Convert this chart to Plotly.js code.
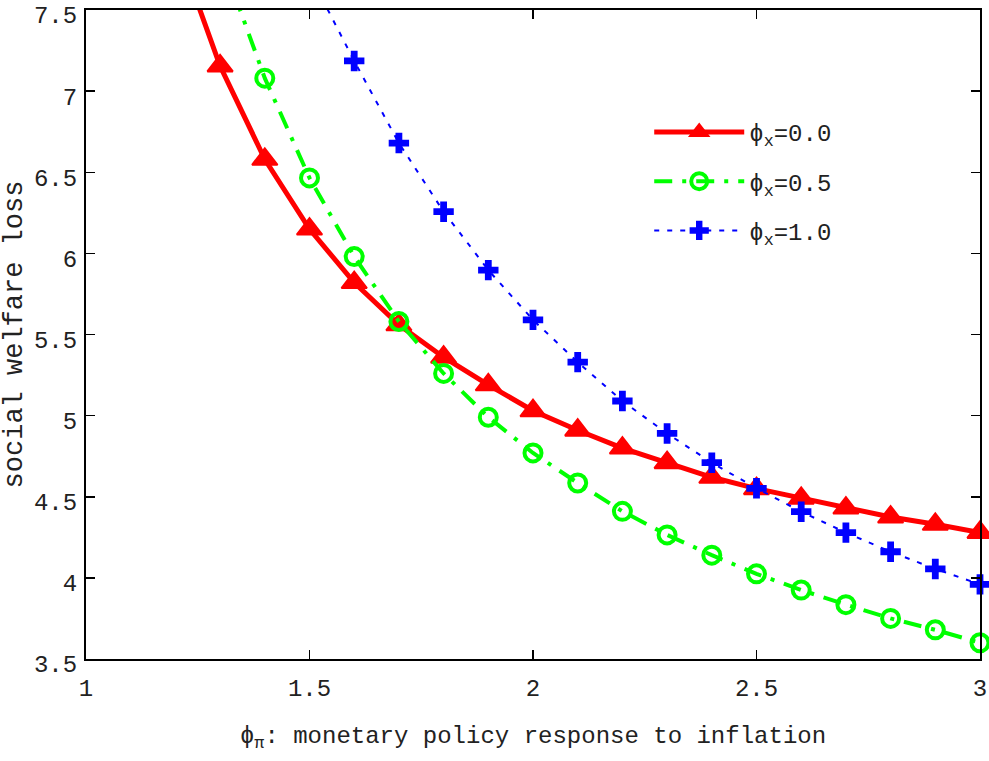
<!DOCTYPE html>
<html>
<head>
<meta charset="utf-8">
<script src="https://cdn.plot.ly/plotly-3.0.1.min.js"></script>
<style>html,body{margin:0;padding:0;background:#fff;}#chart{width:989px;height:761px;}</style>
</head>
<body>
<div id="chart"></div>
<script>
// phi_pi values
var xRed   = [1.2, 1.3, 1.4, 1.5, 1.6, 1.7, 1.8, 1.9, 2.0, 2.1, 2.2, 2.3, 2.4, 2.5, 2.6, 2.7, 2.8, 2.9, 3.0];
var lossPhiX00 = [7.92, 7.155, 6.58, 6.15, 5.82, 5.56, 5.36, 5.19, 5.03, 4.91, 4.80, 4.71, 4.62, 4.55, 4.49, 4.43, 4.375, 4.33, 4.28];
var xGreen = [1.3, 1.4, 1.5, 1.6, 1.7, 1.8, 1.9, 2.0, 2.1, 2.2, 2.3, 2.4, 2.5, 2.6, 2.7, 2.8, 2.9, 3.0];
var lossPhiX05 = [7.84, 7.08, 6.465, 5.98, 5.58, 5.26, 4.99, 4.77, 4.585, 4.41, 4.265, 4.14, 4.025, 3.925, 3.835, 3.75, 3.68, 3.60];
var xBlue  = [1.5, 1.6, 1.7, 1.8, 1.9, 2.0, 2.1, 2.2, 2.3, 2.4, 2.5, 2.6, 2.7, 2.8, 2.9, 3.0];
var lossPhiX10 = [7.72, 7.186, 6.68, 6.257, 5.897, 5.59, 5.33, 5.09, 4.89, 4.71, 4.552, 4.408, 4.279, 4.161, 4.055, 3.96];
var seriesNames = ['\u03d5<sub>x</sub>=0.0', '\u03d5<sub>x</sub>=0.5', '\u03d5<sub>x</sub>=1.0'];
var xTitle = '\u03d5<sub>\u03c0</sub>: monetary policy response to inflation';
var yTitle = 'social welfare loss';

var FONT = 'Liberation Mono, Courier New, monospace';
var traces = [
  {x: xRed, y: lossPhiX00, name: seriesNames[0], legendgroup: 'a', mode: 'lines+markers', cliponaxis: false,
   line: {color: '#ff0000', width: 5, dash: 'solid'},
   marker: {symbol: 'triangle-up', size: 22, color: '#ff0000', line: {color: '#ff0000', width: 2}}},
  {x: xGreen, y: lossPhiX05, name: seriesNames[1], legendgroup: 'b', mode: 'lines+markers', cliponaxis: false,
   line: {color: '#00ff00', width: 4, dash: '18px,10px,4px,10px'},
   marker: {symbol: 'circle-open', size: 17, color: '#00ff00', line: {color: '#00ff00', width: 4}}},
  {x: xBlue, y: lossPhiX10, name: seriesNames[2], legendgroup: 'c', mode: 'lines+markers', cliponaxis: false,
   line: {color: '#0000ff', width: 2, dash: '5px,8px'},
   marker: {symbol: 'cross', size: 17, color: '#0000ff', line: {width: 0}}}
];

var layout = {
  width: 989, height: 761,
  margin: {l: 86, r: 9, t: 10, b: 102},
  paper_bgcolor: '#ffffff', plot_bgcolor: '#ffffff',
  font: {family: FONT, size: 24, color: '#222222'},
  showlegend: true,
  legend: {x: 0.63, y: 0.846, xanchor: 'left', yanchor: 'top', bgcolor: 'rgba(0,0,0,0)', borderwidth: 0,
           font: {family: FONT, size: 24, color: '#222222'}, itemwidth: 90, tracegroupgap: 15},
  xaxis: {range: [1, 3], dtick: 0.5, tick0: 1, showgrid: false, zeroline: false,
          showline: true, linecolor: '#000000', linewidth: 2, mirror: 'ticks',
          ticks: 'inside', ticklen: 9, tickwidth: 1.5, tickcolor: '#000000',
          ticklabelstandoff: 6, ticklabeloverflow: 'allow',
          tickfont: {family: FONT, size: 24, color: '#222222'},
          title: {text: xTitle, font: {family: FONT, size: 24, color: '#222222'}, standoff: 24}},
  yaxis: {range: [3.5, 7.5], dtick: 0.5, tick0: 3.5, showgrid: false, zeroline: false,
          showline: true, linecolor: '#000000', linewidth: 2, mirror: 'ticks',
          ticks: 'inside', ticklen: 9, tickwidth: 1.5, tickcolor: '#000000',
          ticklabelstandoff: 2, ticklabeloverflow: 'allow', ticklabelshift: 5,
          tickfont: {family: FONT, size: 24, color: '#222222'},
          title: {text: yTitle, font: {family: FONT, size: 27, color: '#222222'}, standoff: 14}}
};

Plotly.newPlot('chart', traces, layout, {displayModeBar: false, staticPlot: true});
</script>
</body>
</html>
